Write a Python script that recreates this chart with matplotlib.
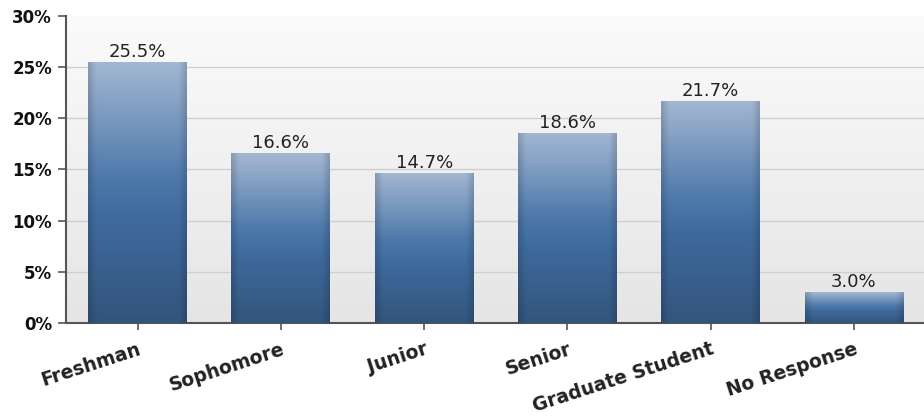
import matplotlib
matplotlib.use("Agg")
import matplotlib.pyplot as plt
import numpy as np
from matplotlib.colors import LinearSegmentedColormap

categories = ["Freshman", "Sophomore", "Junior", "Senior", "Graduate Student", "No Response"]
values = [25.5, 16.6, 14.7, 18.6, 21.7, 3.0]
yticks = [0, 5, 10, 15, 20, 25, 30]

fig = plt.figure(figsize=(9.24, 4.19), dpi=100)
ax = fig.add_axes([0.0714, 0.229, 0.935, 0.733])

# background gradient (white top -> light grey bottom)
bg = np.linspace(0, 1, 256).reshape(-1, 1)
bg_cmap = LinearSegmentedColormap.from_list("bg", ["#fbfbfb", "#e5e5e5"])
ax.imshow(bg, cmap=bg_cmap, extent=[0, 1, 0, 1], transform=ax.transAxes,
          aspect="auto", zorder=0)

bar_cmap = LinearSegmentedColormap.from_list(
    "bar", [(0.0, "#a3b7d2"), (0.45, "#4d78aa"), (0.6, "#3f6a9d"), (1.0, "#33557d")])

x = np.arange(len(categories))
width = 0.69
bars = ax.bar(x, values, width=width, color="none", edgecolor="none", zorder=3)

ny, nx = 200, 60
grad_v = np.linspace(0, 1, ny).reshape(-1, 1)
edge = np.linspace(-1, 1, nx).reshape(1, -1)
shade = 1 - 0.15 * np.clip((np.abs(edge) - 0.85) / 0.15, 0, 1)
for b, v in zip(bars, values):
    rgba = bar_cmap(np.repeat(grad_v, nx, axis=1))
    rgba[..., :3] *= shade[..., None]
    x0 = b.get_x()
    im = ax.imshow(rgba, extent=[x0, x0 + width, 0, v], aspect="auto",
                   origin="upper", zorder=3)
    im.set_clip_path(b)
    ax.text(b.get_x() + width / 2, v + 0.1, "%.1f%%" % v, ha="center", va="bottom",
            fontsize=13, color="#222222", zorder=4)

ax.set_xlim(-0.5, len(categories) - 0.47)
ax.set_ylim(0, 30)
ax.set_yticks(yticks)
ax.set_yticklabels(["%d%%" % t for t in yticks], fontsize=12, fontweight="bold", color="#111111")
ax.set_xticks(x)
ax.set_xticklabels(categories, rotation=18, ha="right", va="top", rotation_mode="anchor",
                   fontsize=13.5, fontweight="bold", color="#222222")
for t in yticks[1:-1]:
    ax.axhline(t, color="#cfcfcf", lw=1, zorder=1)

for s in ["top", "right"]:
    ax.spines[s].set_visible(False)
ax.spines["left"].set_color("#555555")
ax.spines["bottom"].set_color("#555555")
ax.spines["left"].set_linewidth(1.5)
ax.spines["bottom"].set_linewidth(1.5)
ax.tick_params(axis="y", length=6, width=1.2, color="#555555", pad=4)
ax.tick_params(axis="x", length=5, width=1.2, color="#555555", pad=7)

fig.savefig("out.png", dpi=100)
